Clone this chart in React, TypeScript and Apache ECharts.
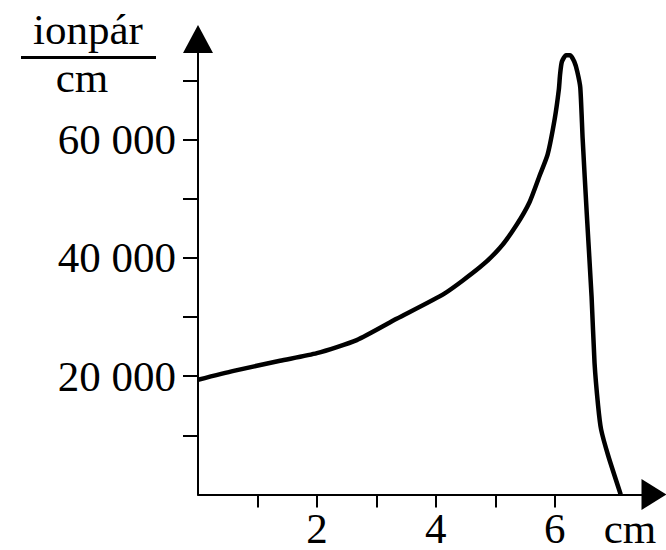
import React, { useEffect, useRef } from "react";
import * as echarts from "echarts";

// Distance travelled (cm) and specific ionisation (ion pairs per cm) — Bragg curve
const distanceCm = [
  0, 0.6, 1.38, 2.0, 2.67, 3.34, 4.15, 4.74, 5.08, 5.36, 5.58, 5.75, 5.88, 6.0, 6.07,
  6.09, 6.12, 6.19, 6.26, 6.33, 6.38, 6.43, 6.47, 6.54, 6.62, 6.67, 6.73, 6.78, 6.9, 7.11,
];
const ionPairsPerCm = [
  19400, 20900, 22600, 23900, 26100, 29700, 34000, 38400, 41700, 45600, 49500, 54000,
  57450, 63500, 68500, 70980, 73150, 74240, 74240, 73150, 71480, 68800, 60100, 47300,
  33450, 22200, 15000, 11000, 6550, 0,
];

const xTickValues = [1, 2, 3, 4, 5, 6];
const xLabelValues = [2, 4, 6];
const yTickValues = [10000, 20000, 30000, 40000, 50000, 60000, 70000];
const yLabelValues = [20000, 40000, 60000];

const xAxisName = "cm";
const yAxisNameTop = "ionpár";
const yAxisNameBottom = "cm";

const FONT = '"Liberation Serif", "Times New Roman", serif';

function fmtThousands(v: number): string {
  return String(v).replace(/\B(?=(\d{3})+(?!\d))/g, " ");
}

export default function App() {
  const ref = useRef<HTMLDivElement>(null);

  useEffect(() => {
    if (!ref.current) return;
    const chart = echarts.init(ref.current, null, { renderer: "svg" });
    chart.setOption({
      animation: false,
      backgroundColor: "#ffffff",
      grid: { left: 198, top: 39, right: 12, bottom: 51, containLabel: false },
      xAxis: {
        type: "value",
        min: 0,
        max: 7.67,
        splitLine: { show: false },
        axisLine: {
          show: true,
          onZero: false,
          lineStyle: { color: "#000", width: 2 },
          symbol: ["none", "triangle"],
          symbolSize: [31, 25],
        },
        axisTick: {
          show: true,
          customValues: xTickValues,
          length: 13,
          lineStyle: { color: "#000", width: 2 },
        },
        axisLabel: {
          customValues: xLabelValues,
          color: "#000",
          fontFamily: FONT,
          fontSize: 43,
          lineHeight: 32,
          margin: 18,
        },
        name: xAxisName,
        nameLocation: "end",
        nameGap: -24,
        nameTextStyle: {
          color: "#000",
          fontFamily: FONT,
          fontSize: 43,
          lineHeight: 32,
          align: "center",
          verticalAlign: "top",
          padding: [18, 0, 0, 0],
        },
      },
      yAxis: {
        type: "value",
        min: 0,
        max: 77000,
        splitLine: { show: false },
        axisLine: {
          show: true,
          onZero: false,
          lineStyle: { color: "#000", width: 2 },
          symbol: ["none", "triangle"],
          symbolSize: [30, 28],
        },
        axisTick: {
          show: true,
          customValues: yTickValues,
          length: 15,
          lineStyle: { color: "#000", width: 2 },
        },
        axisLabel: {
          customValues: yLabelValues,
          color: "#000",
          fontFamily: FONT,
          fontSize: 43,
          margin: 22,
          formatter: (v: number) => fmtThousands(v),
        },
      },
      graphic: [
        {
          type: "text",
          x: 88,
          y: 29,
          style: {
            text: yAxisNameTop,
            fill: "#000",
            font: `43px ${FONT}`,
            align: "center",
            verticalAlign: "middle",
          },
        },
        {
          type: "line",
          shape: { x1: 21, y1: 57.5, x2: 156, y2: 57.5 },
          style: { stroke: "#000", lineWidth: 3 },
        },
        {
          type: "text",
          x: 82,
          y: 77,
          style: {
            text: yAxisNameBottom,
            fill: "#000",
            font: `43px ${FONT}`,
            align: "center",
            verticalAlign: "middle",
          },
        },
      ],
      series: [
        {
          type: "line",
          data: distanceCm.map((x, i) => [x, ionPairsPerCm[i]]),
          showSymbol: false,
          smooth: 0.2,
          clip: false,
          lineStyle: { color: "#000", width: 4.5, join: "round" },
        },
      ],
    });
    return () => chart.dispose();
  }, []);

  return (
    <div
      ref={ref}
      style={{ position: "fixed", left: 0, top: 0, width: 666, height: 550, background: "#fff" }}
    />
  );
}
